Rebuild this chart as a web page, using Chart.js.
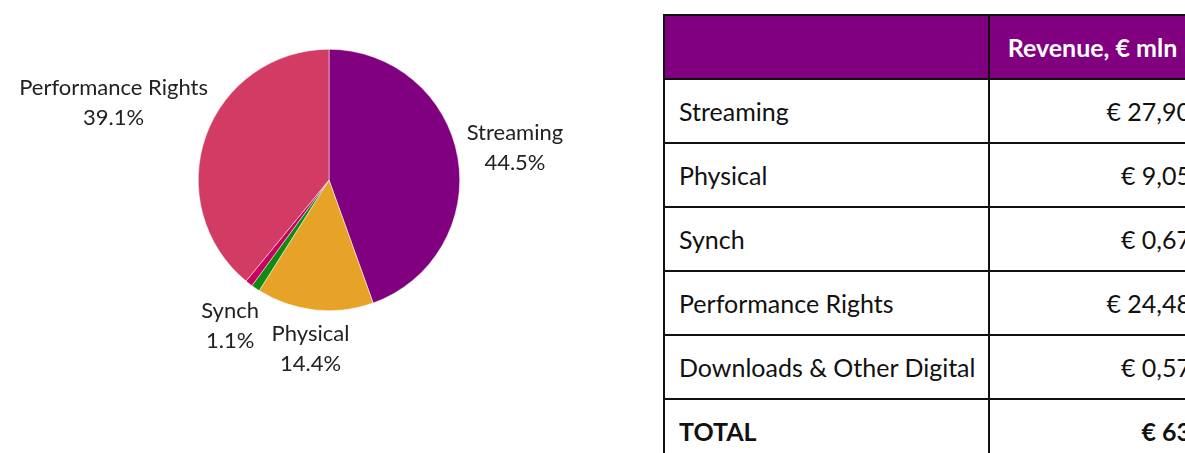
<!DOCTYPE html>
<html>
<head>
<meta charset="utf-8">
<script src="https://cdn.jsdelivr.net/npm/chart.js@4"></script>
<style>
  html, body { margin: 0; padding: 0; background: #fff; overflow: hidden; }
  body { width: 1185px; height: 453px; position: relative; font-family: Lato, "Noto Sans", sans-serif; }
  #pieBox { position: absolute; left: 0; top: 0; width: 658px; height: 453px; }
  table { position: absolute; left: 663px; top: 14px; border-collapse: collapse; font-size: 25px; color: #111; table-layout: fixed; width: 548px; }
  td, th { border: 2px solid #111; height: 64px; padding: 0 14px; box-sizing: border-box; white-space: nowrap; }
  th { background: #800080; color: #fff; font-weight: 700; text-align: center; }
  th.valHead { padding-right: 28px; }
  td.name, th.nameHead { width: 325px; text-align: left; }
  td.val { text-align: right; padding-right: 18px; }
  tr.total td { font-weight: 700; }
</style>
</head>
<body>
<div id="pieBox"><canvas id="revenuePie"></canvas></div>
<table id="revTable"></table>

<script>
// volgorde in de taart (met de klok mee vanaf boven)
const pieLabels = ['Streaming', 'Physical', 'Synch', 'Downloads & Other Digital', 'Performance Rights'];
const pieValues = [27.90, 9.05, 0.67, 0.57, 24.48];
const pieColors = ['#800080', '#e6a328', '#118a11', '#c8005e', '#d23b64'];

// volgorde in de tabel
const tableLabels = ['Streaming', 'Physical', 'Synch', 'Performance Rights', 'Downloads & Other Digital'];
const tableValues = [27.90, 9.05, 0.67, 24.48, 0.57];
const tableHeader = 'Revenue, € mln';
const totalLabel = 'TOTAL';

function euro(v, digits) {
  return '€ ' + v.toFixed(digits).replace('.', ',');
}

// tabel opbouwen
const table = document.getElementById('revTable');
let html = '<tr><th class="nameHead"></th><th class="valHead">' + tableHeader + '</th></tr>';
tableLabels.forEach((name, i) => {
  html += '<tr><td class="name">' + name + '</td><td class="val">' + euro(tableValues[i], 2) + '</td></tr>';
});
const total = tableValues.reduce((a, b) => a + b, 0);
html += '<tr class="total"><td class="name">' + totalLabel + '</td><td class="val">' + euro(total, 0) + '</td></tr>';
table.innerHTML = html;

// labels buiten de taart tekenen
const outsideLabels = {
  id: 'outsideLabels',
  afterDatasetsDraw(chart) {
    const ctx = chart.ctx;
    const meta = chart.getDatasetMeta(0);
    const data = chart.data.datasets[0].data;
    const sum = data.reduce((a, b) => a + b, 0);
    ctx.save();
    ctx.font = '22px Lato, "Noto Sans", sans-serif';
    ctx.fillStyle = '#222';
    ctx.textAlign = 'center';
    ctx.textBaseline = 'middle';
    meta.data.forEach((arc, i) => {
      const pct = data[i] / sum * 100;
      if (pct < 1) return; // te klein, geen label
      const mid = (arc.startAngle + arc.endAngle) / 2;
      const dx = Math.cos(mid), dy = Math.sin(mid);
      const lines = [chart.data.labels[i], pct.toFixed(1) + '%'];
      const w = Math.max(...lines.map(l => ctx.measureText(l).width));
      const lineH = 30;
      const h = lineH * lines.length;
      // afstand van het midden van het tekstblok tot de rand, langs de straal
      const half = Math.min(
        Math.abs(dx) > 0.001 ? (w / 2) / Math.abs(dx) : Infinity,
        Math.abs(dy) > 0.001 ? (h / 2) / Math.abs(dy) : Infinity
      );
      const d = arc.outerRadius + 9 + half;
      const cx = arc.x + dx * d;
      const cy = arc.y + dy * d;
      lines.forEach((l, k) => {
        ctx.fillText(l, cx, cy - h / 2 + lineH * (k + 0.5));
      });
    });
    ctx.restore();
  }
};

const pieChart = new Chart(document.getElementById('revenuePie'), {
  type: 'pie',
  data: {
    labels: pieLabels,
    datasets: [{
      data: pieValues,
      backgroundColor: pieColors,
      borderColor: '#ffffff',
      borderWidth: 0.5
    }]
  },
  options: {
    responsive: true,
    maintainAspectRatio: false,
    animation: false,
    layout: { padding: { top: 49, bottom: 142, left: 198, right: 198 } },
    plugins: {
      legend: { display: false },
      tooltip: { enabled: false }
    }
  },
  plugins: [outsideLabels]
});
</script>
</body>
</html>
